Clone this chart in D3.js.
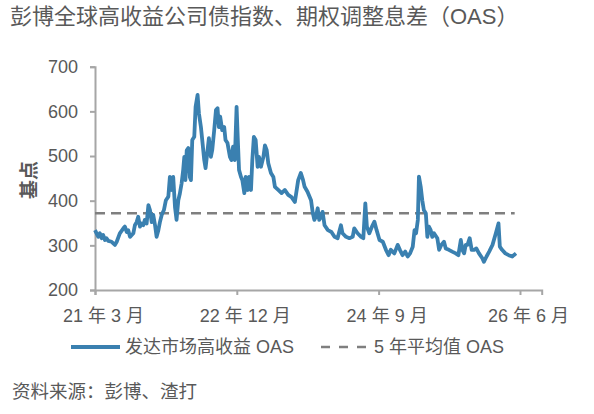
<!DOCTYPE html>
<html>
<head>
<meta charset="utf-8">
<script src="https://cdn.jsdelivr.net/npm/d3@7"></script>
<style>
  body { margin: 0; background: #fff; }
  svg text { font-family: "Liberation Sans", "Noto Sans CJK SC", sans-serif; fill: #595959; }
</style>
</head>
<body>
<div id="chart"></div>
<script>
// 数据
const dates = [
  "2021-03-01","2021-03-08","2021-03-16","2021-03-23","2021-03-31","2021-04-07","2021-04-15","2021-04-22",
  "2021-04-30","2021-05-15","2021-05-30","2021-06-07","2021-06-21","2021-07-07","2021-07-14","2021-07-22",
  "2021-07-29","2021-08-06","2021-08-21","2021-08-28","2021-09-05","2021-09-12","2021-09-20","2021-09-27",
  "2021-10-05","2021-10-12","2021-10-20","2021-10-28","2021-11-04","2021-11-12","2021-11-19","2021-11-27",
  "2021-12-04","2021-12-12","2021-12-19","2021-12-27","2022-01-06","2022-01-15","2022-01-26","2022-02-02",
  "2022-02-10","2022-02-17","2022-02-25","2022-03-04","2022-03-12","2022-03-19","2022-03-27","2022-04-03",
  "2022-04-08","2022-04-13","2022-04-19","2022-04-26",
  "2022-05-03","2022-05-08","2022-05-14","2022-05-23","2022-05-29","2022-06-07","2022-06-13","2022-06-22",
  "2022-06-28","2022-07-07","2022-07-13","2022-07-22","2022-07-28","2022-08-06","2022-08-12","2022-08-21",
  "2022-08-29","2022-09-05","2022-09-11","2022-09-17","2022-09-26","2022-10-05","2022-10-11","2022-10-20",
  "2022-10-31","2022-11-07","2022-11-14","2022-11-22","2022-11-30","2022-12-05","2022-12-11","2022-12-20",
  "2022-12-26","2023-01-04","2023-01-10","2023-01-19","2023-01-25","2023-02-03","2023-02-09","2023-02-16",
  "2023-02-24","2023-03-05","2023-03-11","2023-03-20","2023-03-31","2023-04-07","2023-04-15","2023-04-22",
  "2023-05-04","2023-05-15","2023-05-22","2023-06-06","2023-06-21","2023-07-06","2023-07-21","2023-08-05",
  "2023-08-20","2023-09-04","2023-09-16","2023-09-26",
  "2023-10-03","2023-10-16","2023-11-01","2023-11-09","2023-11-16","2023-11-23","2023-12-01","2023-12-08",
  "2023-12-16","2023-12-23","2024-01-01","2024-01-16","2024-02-01","2024-02-15","2024-02-29","2024-03-07",
  "2024-03-15","2024-03-22","2024-04-07","2024-04-22","2024-05-07","2024-05-14","2024-05-29","2024-06-14",
  "2024-06-24","2024-07-03","2024-07-10","2024-07-21","2024-08-02","2024-08-13","2024-08-23","2024-09-05",
  "2024-09-20","2024-10-04","2024-10-16","2024-10-26","2024-11-11","2024-11-26","2024-12-06","2024-12-18",
  "2024-12-30","2025-01-10","2025-01-21","2025-02-02","2025-02-10","2025-02-17","2025-02-25","2025-03-02",
  "2025-03-10","2025-03-17","2025-03-24","2025-04-02","2025-04-09","2025-04-16","2025-04-24","2025-05-01",
  "2025-05-09","2025-05-24","2025-06-01","2025-06-11","2025-06-23","2025-07-01","2025-07-15","2025-07-30",
  "2025-08-15","2025-08-27","2025-09-07","2025-09-14","2025-09-22","2025-09-29","2025-10-07","2025-10-17",
  "2025-10-26","2025-11-06","2025-11-16","2025-11-28","2025-12-13","2025-12-20","2026-01-01","2026-01-13",
  "2026-01-28","2026-02-12","2026-02-24","2026-03-02","2026-03-12","2026-03-27","2026-04-11","2026-04-27",
  "2026-05-04","2026-05-14"
];
const oas = [
  334, 327, 319, 327, 316, 323, 312, 316,
  310, 308, 301, 308, 327, 338, 342, 330,
  334, 319, 327, 345, 352, 364, 342, 349,
  345, 357, 349, 390, 379, 352, 368, 345,
  319, 334, 352, 368, 379, 401, 409, 453,
  424, 453, 386, 357, 401, 416, 439, 469,
  498, 446, 513, 518,
  453, 446, 536, 543, 610, 637, 596, 565,
  536, 491, 473, 513, 540, 498, 513, 558,
  603, 607, 565, 588, 558, 565, 536, 529,
  498, 491, 521, 491, 610, 543, 469, 453,
  446, 417, 453, 424, 453, 424, 491, 543,
  536, 476, 498, 476, 498, 524, 513, 484,
  462, 453, 431, 424, 417, 424, 413, 408,
  397, 446, 462, 446,
  431, 420, 401, 372, 357, 364, 383, 357,
  364, 375, 345, 334, 330, 319, 316, 330,
  345, 327, 319, 316, 319, 338, 327, 319,
  316, 394, 342, 327, 342, 353, 334, 312,
  308, 290, 278, 290, 282, 301, 290, 278,
  286, 275, 282, 297, 334, 327, 357, 454,
  431, 401, 379, 372, 319, 342, 334, 319,
  327, 316, 290, 301, 308, 293, 290, 286,
  282, 278, 312, 290, 282, 301, 301, 316,
  290, 290, 293, 282, 271, 263, 275, 286,
  301, 327, 349, 297, 290, 282, 278, 275,
  278, 282
];
const avgOas = 372;
const avgRange = ["2021-03-01", "2026-05-08"];
const xTicks = ["2021-03-01", "2022-12-01", "2024-09-01", "2026-06-01"];
const xTickLabels = ["21 年 3 月", "22 年 12 月", "24 年 9 月", "26 年 6 月"];
const yTicks = [200, 300, 400, 500, 600, 700];
const title = "彭博全球高收益公司债指数、期权调整息差（OAS）";
const yTitle = "基点";
const legendLabels = ["发达市场高收益 OAS", "5 年平均值 OAS"];
const sourceText = "资料来源：彭博、渣打";

const width = 594, height = 414;
const parse = d3.timeParse("%Y-%m-%d");
const data = dates.map((d, i) => ({ date: parse(d), value: oas[i] }));

const svg = d3.select("#chart").append("svg")
    .attr("width", width)
    .attr("height", height);

const x = d3.scaleTime()
    .domain([parse("2021-03-01"), parse("2026-09-07")])
    .range([95, 541.7]);
const y = d3.scaleLinear()
    .domain([200, 700])
    .range([290, 66.7]);

// 标题
svg.append("text")
    .attr("x", 10).attr("y", 24)
    .style("font-size", "22px")
    .text(title);

// 坐标轴
const axisColor = "#a6a6a6";
const gx = svg.append("g")
    .attr("transform", "translate(0,290)")
    .call(d3.axisBottom(x)
        .tickValues(xTicks.map(parse))
        .tickSize(5)
        .tickFormat((d, i) => xTickLabels[i]));
gx.selectAll("text")
    .attr("y", 32).attr("dy", 0).attr("dx", 8)
    .style("font-size", "18px");

const gy = svg.append("g")
    .attr("transform", "translate(95,0)")
    .call(d3.axisLeft(y).tickValues(yTicks).tickSize(5).tickPadding(12));
gy.selectAll("text").style("font-size", "18px");

[gx, gy].forEach(g => {
    g.select(".domain").attr("stroke", axisColor).attr("stroke-width", 2);
    g.selectAll(".tick line").attr("stroke", axisColor).attr("stroke-width", 2);
});

svg.append("text")
    .attr("transform", "translate(36,180) rotate(-90)")
    .attr("text-anchor", "middle")
    .style("font-size", "19px")
    .style("font-weight", "bold")
    .text(yTitle);

// 5年平均线
svg.append("line")
    .attr("x1", x(parse(avgRange[0]))).attr("x2", x(parse(avgRange[1])))
    .attr("y1", y(avgOas)).attr("y2", y(avgOas))
    .attr("stroke", "#7f7f7f")
    .attr("stroke-width", 2.5)
    .attr("stroke-dasharray", "10,6");

// OAS 折线
const line = d3.line()
    .x(d => x(d.date))
    .y(d => y(d.value));

svg.append("path")
    .datum(data)
    .attr("fill", "none")
    .attr("stroke", "#3a80b0")
    .attr("stroke-width", 3.8)
    .attr("stroke-linejoin", "round")
    .attr("d", line);

// 图例
const legend = svg.append("g").attr("transform", "translate(0,347)");
legend.append("line")
    .attr("x1", 71).attr("x2", 120)
    .attr("stroke", "#3a80b0").attr("stroke-width", 3.8);
legend.append("text")
    .attr("x", 125).attr("dy", "0.35em")
    .style("font-size", "18px")
    .text(legendLabels[0]);
legend.append("line")
    .attr("x1", 321).attr("x2", 366)
    .attr("stroke", "#7f7f7f").attr("stroke-width", 2.5)
    .attr("stroke-dasharray", "9,9");
legend.append("text")
    .attr("x", 374).attr("dy", "0.35em")
    .style("font-size", "18px")
    .text(legendLabels[1]);

// 资料来源
svg.append("text")
    .attr("x", 12).attr("y", 398)
    .style("font-size", "18.5px")
    .text(sourceText);
</script>
</body>
</html>
